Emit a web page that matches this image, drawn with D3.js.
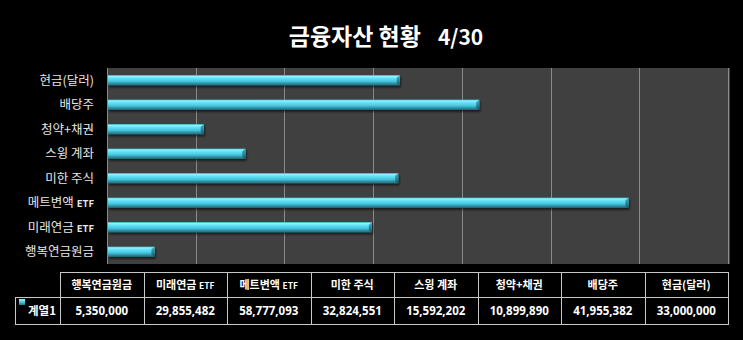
<!DOCTYPE html>
<html>
<head>
<meta charset="utf-8">
<script src="https://cdn.jsdelivr.net/npm/d3@7/dist/d3.min.js"></script>
<style>
  html, body { margin: 0; padding: 0; background: #000; }
  svg { display: block; }
</style>
</head>
<body>
<svg id="chart" width="743" height="340"></svg>
<script>
// Holdings, in table order (bottom bar first)
const categories = ["행복연금원금", "미래연금 ETF", "메트변액 ETF", "미한 주식", "스윙 계좌", "청약+채권", "배당주", "현금(달러)"];
const values = [5350000, 29855482, 58777093, 32824551, 15592202, 10899890, 41955382, 33000000];
const seriesName = "계열1";
const titleText = "금융자산 현황";
const dateText = "4/30";
const xTicks = [0, 10000000, 20000000, 30000000, 40000000, 50000000, 60000000, 70000000];

const W = 743, H = 340;
const plot = { left: 107, right: 728, top: 68, bottom: 264 };
const KFONT = "'Noto Sans CJK KR', 'Noto Sans', sans-serif";

const svg = d3.select("#chart");
const defs = svg.append("defs");

// Bevelled cyan bar fill
const g1 = defs.append("linearGradient").attr("id", "barFill").attr("x1", 0).attr("y1", 0).attr("x2", 0).attr("y2", 1);
[["0%", "#3fb6cc"], ["12%", "#8ff4ff"], ["30%", "#62e2f6"], ["60%", "#47c6de"], ["80%", "#2f93a8"], ["100%", "#1f6777"]]
  .forEach(([o, c]) => g1.append("stop").attr("offset", o).attr("stop-color", c));
const g2 = defs.append("linearGradient").attr("id", "capFill").attr("x1", 0).attr("y1", 0).attr("x2", 0).attr("y2", 1);
[["0%", "#3aa8bd"], ["40%", "#2f8fa3"], ["100%", "#1b5866"]]
  .forEach(([o, c]) => g2.append("stop").attr("offset", o).attr("stop-color", c));
const g3 = defs.append("linearGradient").attr("id", "markFill").attr("x1", 0).attr("y1", 0).attr("x2", 0).attr("y2", 1);
[["0%", "#9af4ff"], ["50%", "#4cc9e0"], ["100%", "#237686"]]
  .forEach(([o, c]) => g3.append("stop").attr("offset", o).attr("stop-color", c));
const sh = defs.append("filter").attr("id", "shadow").attr("x", "-5%").attr("y", "-50%").attr("width", "110%").attr("height", "220%");
sh.append("feDropShadow").attr("dx", 1).attr("dy", 2).attr("stdDeviation", 1).attr("flood-color", "#000").attr("flood-opacity", 0.6);

// Title
const title = svg.append("text")
  .attr("x", 386).attr("y", 45)
  .attr("text-anchor", "middle")
  .attr("fill", "#ffffff")
  .attr("font-family", KFONT)
  .attr("font-weight", "bold")
  .attr("font-size", 23);
title.append("tspan").text(titleText);
title.append("tspan").attr("dx", 17).attr("font-size", 21).text(dateText);

// Scales
const x = d3.scaleLinear().domain([0, 70000000]).range([plot.left, plot.right]);
const y = d3.scaleBand().domain(categories.slice().reverse()).range([plot.top, plot.bottom])
  .paddingInner(0.58).paddingOuter(0.29);

// Plot area
svg.append("rect")
  .attr("x", plot.left).attr("y", plot.top)
  .attr("width", plot.right - plot.left + 2).attr("height", plot.bottom - plot.top)
  .attr("fill", "#404040");

// Vertical gridlines
svg.append("g").selectAll("line").data(xTicks).join("line")
  .attr("x1", d => Math.round(x(d)) + 0.5).attr("x2", d => Math.round(x(d)) + 0.5)
  .attr("y1", plot.top).attr("y2", plot.bottom)
  .attr("stroke", "#8a8a8a").attr("stroke-width", 1);

// Category axis labels
function labelParts(sel, small) {
  sel.each(function (d) {
    const t = d3.select(this);
    const m = d.match(/^(.*) (ETF)$/);
    if (m) {
      t.append("tspan").text(m[1] + " ");
      t.append("tspan").attr("font-size", small).attr("font-weight", "bold").text(m[2]);
    } else {
      t.text(d);
    }
  });
}
svg.append("g").selectAll("text").data(categories).join("text")
  .attr("x", 94)
  .attr("y", d => y(d) + y.bandwidth() / 2 + 4.5)
  .attr("text-anchor", "end")
  .attr("fill", "#e6e6e6")
  .attr("font-family", KFONT)
  .attr("font-size", 12.5)
  .call(labelParts, 9.5);

// Bars
const rows = categories.map((c, i) => ({ c, v: values[i] }));
const bars = svg.append("g").selectAll("g").data(rows).join("g").attr("filter", "url(#shadow)");
bars.append("rect")
  .attr("x", x(0) + 1)
  .attr("y", d => y(d.c))
  .attr("width", d => x(d.v) - x(0) - 1)
  .attr("height", y.bandwidth())
  .attr("fill", "url(#barFill)");
// Bevelled right end
bars.append("path")
  .attr("d", d => {
    const xe = x(d.v), y0 = y(d.c), h = y.bandwidth();
    return `M${xe - 3},${y0 + 3} L${xe},${y0} L${xe},${y0 + h} L${xe - 3},${y0 + h - 2} Z`;
  })
  .attr("fill", "url(#capFill)");

// Data table
const tbl = { left: 60, legendLeft: 15, right: 728, top: 272, mid: 297, bottom: 324 };
const colW = (tbl.right - tbl.left) / categories.length;
const tg = svg.append("g");
const stroke = "#c8c8c8";
tg.append("line").attr("x1", tbl.left).attr("x2", tbl.right).attr("y1", tbl.top + 0.5).attr("y2", tbl.top + 0.5).attr("stroke", stroke);
tg.append("line").attr("x1", tbl.legendLeft).attr("x2", tbl.right).attr("y1", tbl.mid + 0.5).attr("y2", tbl.mid + 0.5).attr("stroke", stroke);
tg.append("line").attr("x1", tbl.legendLeft).attr("x2", tbl.right).attr("y1", tbl.bottom + 0.5).attr("y2", tbl.bottom + 0.5).attr("stroke", stroke);
tg.append("line").attr("x1", tbl.legendLeft + 0.5).attr("x2", tbl.legendLeft + 0.5).attr("y1", tbl.mid).attr("y2", tbl.bottom + 1).attr("stroke", stroke);
tg.selectAll("line.col").data(d3.range(categories.length + 1)).join("line")
  .attr("class", "col")
  .attr("x1", i => Math.round(tbl.left + i * colW) + 0.5).attr("x2", i => Math.round(tbl.left + i * colW) + 0.5)
  .attr("y1", tbl.top).attr("y2", tbl.bottom + 1)
  .attr("stroke", stroke);

tg.selectAll("text.head").data(categories).join("text")
  .attr("class", "head")
  .attr("x", (d, i) => tbl.left + (i + 0.5) * colW)
  .attr("y", (tbl.top + tbl.mid) / 2 + 4.5)
  .attr("text-anchor", "middle")
  .attr("fill", "#ffffff")
  .attr("font-family", KFONT)
  .attr("font-weight", "bold")
  .attr("font-size", 11)
  .call(labelParts, 8.5);

const fmt = d3.format(",");
tg.selectAll("text.val").data(values).join("text")
  .attr("class", "val")
  .attr("x", (d, i) => tbl.left + (i + 0.5) * colW)
  .attr("y", (tbl.mid + tbl.bottom) / 2 + 4)
  .attr("text-anchor", "middle")
  .attr("fill", "#ffffff")
  .attr("font-family", "'Noto Sans', sans-serif")
  .attr("font-weight", "bold")
  .attr("font-size", 11.5)
  .text(d => fmt(d));

// Series legend key
tg.append("rect").attr("x", 19).attr("y", 299).attr("width", 6).attr("height", 6)
  .attr("fill", "url(#markFill)");
tg.append("text")
  .attr("x", 28).attr("y", 315)
  .attr("fill", "#ffffff")
  .attr("font-family", KFONT)
  .attr("font-weight", "bold")
  .attr("font-size", 11.5)
  .text(seriesName);
</script>
</body>
</html>
